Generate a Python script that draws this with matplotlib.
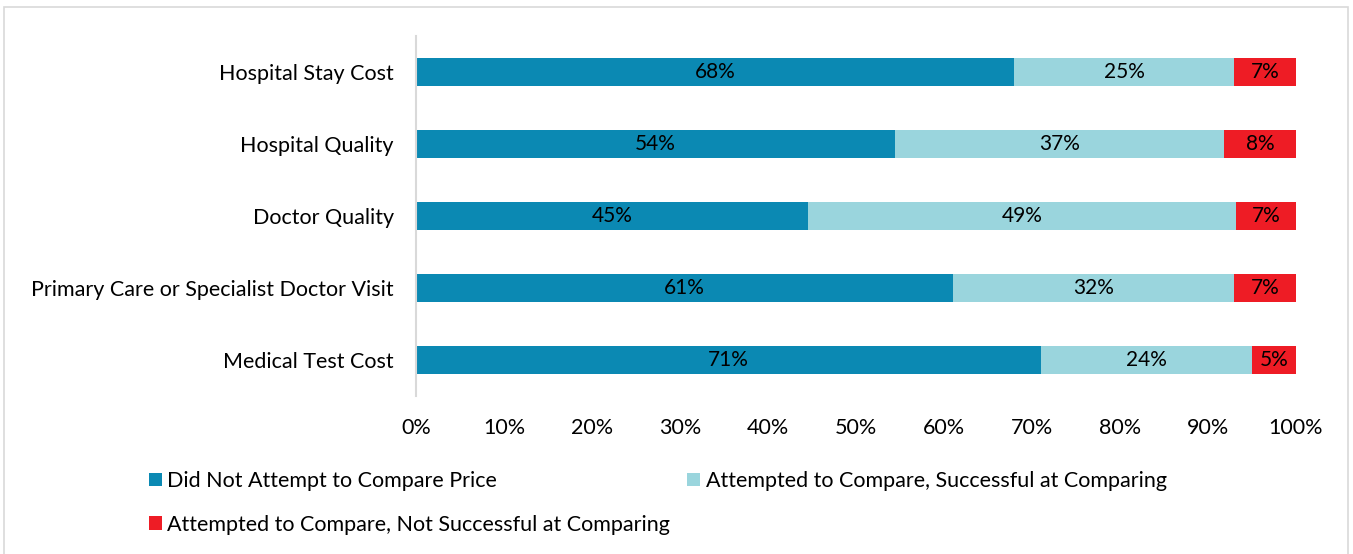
import matplotlib.pyplot as plt
from matplotlib.patches import Rectangle

plt.rcParams['font.family'] = ['Lato', 'DejaVu Sans']

categories = ["Hospital Stay Cost", "Hospital Quality", "Doctor Quality",
              "Primary Care or Specialist Doctor Visit", "Medical Test Cost"]
did_not = [68.0, 54.4, 44.6, 61.0, 71.0]
success = [25.0, 37.4, 48.6, 32.0, 24.0]
not_success = [7.0, 8.2, 6.8, 7.0, 5.0]
series_names = ["Did Not Attempt to Compare Price",
                "Attempted to Compare, Successful at Comparing",
                "Attempted to Compare, Not Successful at Comparing"]
colors = ["#0B89B3", "#9AD5DD", "#EE1C25"]

fig = plt.figure(figsize=(13.53, 5.54), dpi=100)
ax = fig.add_axes([416/1353, 1-396/554, 880/1353, 360/554])

# outer frame
fig.patches.append(Rectangle((4/1353, -0.1), 1344/1353, 1.1 - 7/554, transform=fig.transFigure,
                             fill=False, edgecolor="#D9D9D9", linewidth=1.2))

y = list(range(len(categories)))
handles = []
left = [0]*len(categories)
for vals, name, c in zip([did_not, success, not_success], series_names, colors):
    h = ax.barh(y, vals, left=left, height=0.4, color=c, label=name)
    handles.append(h)
    for yi, l, v in zip(y, left, vals):
        ax.text(l + v/2, yi, f"{int(v + 0.5)}%", ha="center", va="center", fontsize=15, color="black")
    left = [a+b for a, b in zip(left, vals)]

ax.set_ylim(4.5, -0.5)
ax.set_xlim(0, 100)
ax.set_yticks(y)
ax.set_yticklabels(categories, fontsize=15.5)
ax.set_xticks(range(0, 101, 10))
ax.set_xticklabels([f"{t}%" for t in range(0, 101, 10)], fontsize=15.5)
ax.tick_params(length=0)
ax.tick_params(axis="x", pad=16)
ax.tick_params(axis="y", pad=16)
for s in ["top", "right", "bottom"]:
    ax.spines[s].set_visible(False)
ax.spines["left"].set_color("#D9D9D9")
ax.spines["left"].set_linewidth(1.5)

fig.legend([handles[0], handles[2], handles[1]],
           [series_names[0], series_names[2], series_names[1]],
           ncol=2, loc="upper left", bbox_to_anchor=(134/1353, 1-456/554),
           frameon=False, fontsize=15.5, handlelength=0.6, handleheight=0.6,
           handletextpad=0.25, columnspacing=0.8, labelspacing=1.1,
           borderpad=0.2)

fig.savefig("out.png", dpi=100)
